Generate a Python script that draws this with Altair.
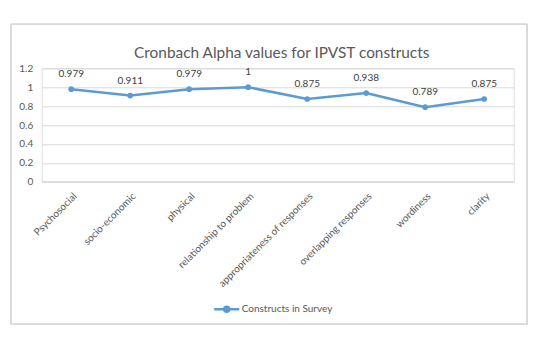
import altair as alt
import pandas as pd

categories = ["Psychosocial", "socio-economic", "physical", "relationship to problem",
              "appropriateness of responses", "overlapping responses", "wordiness", "clarity"]
values = [0.979, 0.911, 0.979, 1, 0.875, 0.938, 0.789, 0.875]
series_name = "Constructs in Survey"
y_ticks = [0, 0.2, 0.4, 0.6, 0.8, 1, 1.2]

df = pd.DataFrame({"construct": categories, "alpha": values, "series": series_name})

FONT = "Lato"
BLUE = "#5B9BD5"
GRID = "#d9d9d9"

x_enc = alt.X("construct:N", sort=categories, title=None,
              scale=alt.Scale(paddingInner=0, paddingOuter=0.5),
              axis=alt.Axis(labelAngle=-45, labelAlign="right", labelBaseline="top",
                            labelPadding=9, ticks=False, domain=True, domainColor=GRID,
                            labelColor="#595959", labelFontSize=10, labelFont=FONT,
                            grid=False, labelLimit=200))
y_enc = alt.Y("alpha:Q", title=None, scale=alt.Scale(domain=[0, 1.2], nice=False),
              axis=alt.Axis(values=y_ticks, format=".1~f", domain=False, ticks=False,
                            grid=True, gridColor=GRID, gridWidth=1, labelPadding=9,
                            labelOverlap=False,
                            labelColor="#595959", labelFontSize=10, labelFont=FONT))

legend = alt.Legend(title=None, orient="none", legendX=171, legendY=227,
                    symbolType="M-1,0L1,0M-0.2,0A0.2,0.2,0,1,1,0.2,0A0.2,0.2,0,1,1,-0.2,0Z",
                    symbolSize=625, symbolStrokeWidth=2.5, symbolFillColor=BLUE,
                    labelFontSize=10, labelFont=FONT, labelColor="#595959", labelOffset=1)

base = alt.Chart(df).encode(x=x_enc, y=y_enc)

line = base.mark_line(strokeWidth=2.5).encode(
    color=alt.Color("series:N", scale=alt.Scale(range=[BLUE]), legend=legend),
)
points = base.mark_point(filled=True, size=32, opacity=1, color=BLUE)
labels = base.mark_text(dy=-15, fontSize=10, font=FONT, color="#404040").encode(
    text=alt.Text("alpha:Q", format="~g"))
border = alt.Chart(df).mark_rect(fillOpacity=0, stroke=GRID, strokeWidth=1).encode(
    x=alt.value(-30.5), x2=alt.value(485.5), y=alt.value(-44), y2=alt.value(256))

chart = alt.layer(border, line, points, labels).properties(
    width=472, height=113.4,
    title=alt.TitleParams("Cronbach Alpha values for IPVST constructs", font=FONT,
                          fontSize=15.4, fontWeight="normal", color="#595959",
                          anchor="middle", dx=4, dy=42),
    padding={"left": 41.7, "top": 68.3, "right": 42.3, "bottom": 168.3},
    autosize=alt.AutoSizeParams(type="none"),
).configure_view(stroke=None).configure(background="white")

chart.save("out.html", embed_options={"renderer": "svg", "actions": False})
